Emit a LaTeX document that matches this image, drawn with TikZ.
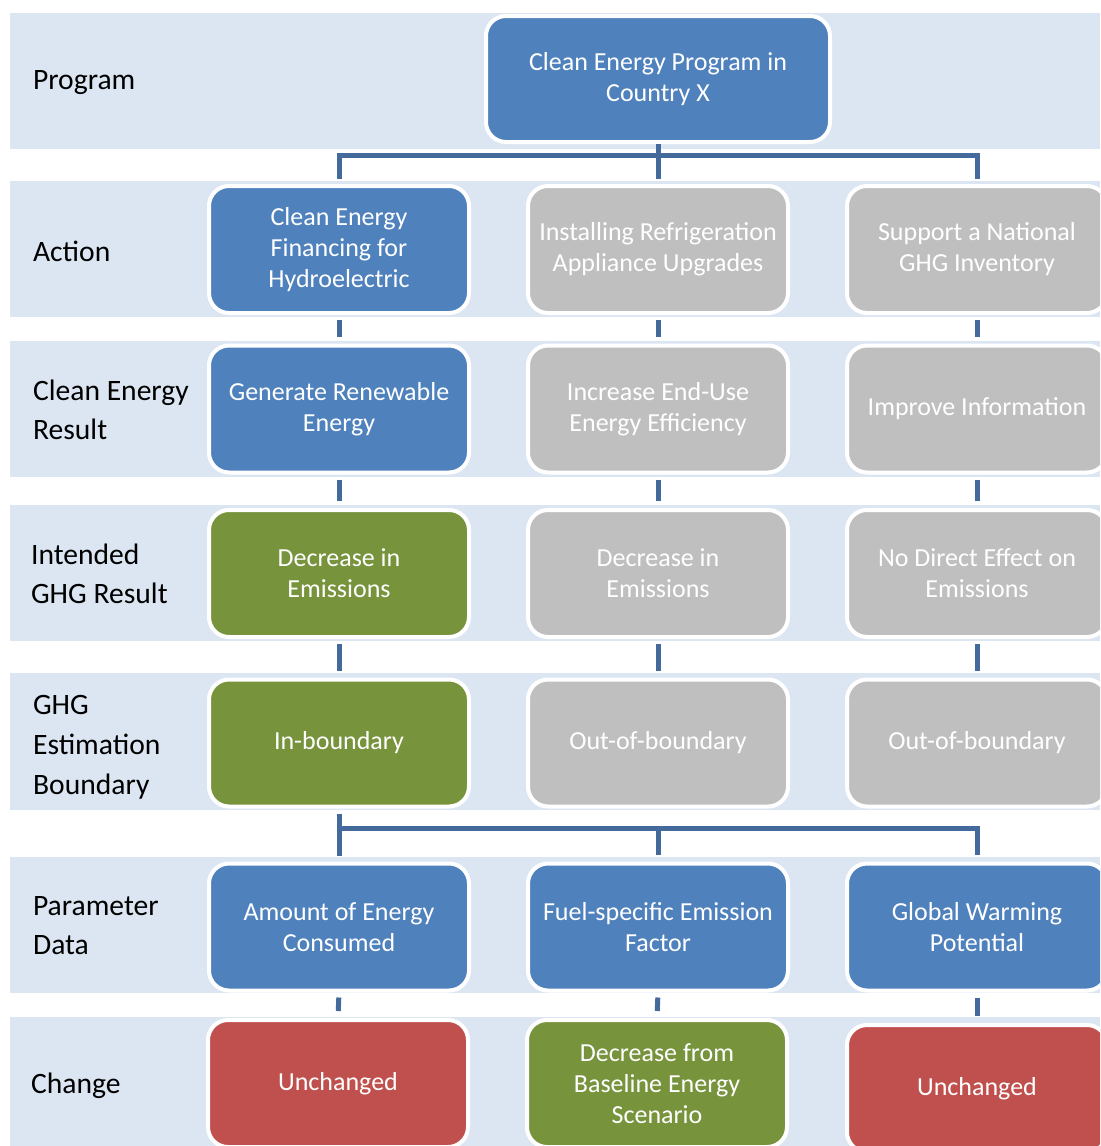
\documentclass[tikz,border=0pt]{standalone}
\usepackage{fontspec}
\setmainfont{Carlito}
\usetikzlibrary{calc}
\definecolor{bandc}{HTML}{DCE6F2}
\definecolor{bluec}{HTML}{4F81BD}
\definecolor{greyc}{HTML}{BFBFBF}
\definecolor{greenc}{HTML}{77933C}
\definecolor{redc}{HTML}{C0504D}
\definecolor{linec}{HTML}{44699B}
\tikzset{
  band/.style={fill=bandc},
  lbl/.style={anchor=west,align=left,font=\fontsize{14.8}{19.5}\selectfont},
  box/.style={draw=white,line width=2pt,rounded corners=10pt,minimum width=130pt,minimum height=63.5pt,align=center,text=white,font=\fontsize{13}{15.5}\selectfont,inner sep=2pt},
  bluebox/.style={box,fill=bluec},
  greybox/.style={box,fill=greyc},
  greenbox/.style={box,fill=greenc},
  redbox/.style={box,fill=redc},
  conn/.style={draw=linec,line width=2.5pt}
}
\begin{document}
\begin{tikzpicture}[x=0.5pt,y=-0.5pt]
\useasboundingbox (0,0) rectangle (1100,1146);
\clip (0,0) rectangle (1100,1146);
\fill[white] (0,0) rectangle (1100,1146);
% row bands
\foreach \t/\b in {13/149,181/317,341/477,505/641,673/810,857/993,1017/1146}
  \fill[band] (10,\t) rectangle (1100,\b);
% row labels
\node[lbl] (lprog) at (26,83) {Program};
\node[lbl] (lact) at (26,251) {Action};
\node[lbl] (lres) at (26,410) {Clean Energy\\Result};
\node[lbl] (lghg) at (24,574) {Intended\\GHG Result};
\node[lbl,font=\fontsize{14.8}{20}\selectfont] (lbnd) at (26,747) {GHG\\Estimation\\Boundary};
\node[lbl] (lpar) at (26,926) {Parameter\\Data};
\node[lbl] (lchg) at (24,1086) {Change};
% program
\node[bluebox,minimum width=172pt,minimum height=63pt] (prog) at (658,79) {Clean Energy Program in\\Country X};
% actions
\node[bluebox] (a1) at (339,249.5) {Clean Energy\\Financing for\\Hydroelectric};
\node[greybox] (a2) at (658,249.5) {Installing Refrigeration\\Appliance Upgrades};
\node[greybox] (a3) at (977,249.5) {Support a National\\GHG Inventory};
% clean energy results
\node[bluebox] (r1) at (339,409) {Generate Renewable\\Energy};
\node[greybox] (r2) at (658,409) {Increase End-Use\\Energy Efficiency};
\node[greybox] (r3) at (977,409) {Improve Information};
% intended ghg results
\node[greenbox] (g1) at (339,573.5) {Decrease in\\Emissions};
\node[greybox] (g2) at (658,573.5) {Decrease in\\Emissions};
\node[greybox] (g3) at (977,573.5) {No Direct Effect on\\Emissions};
% boundary
\node[greenbox] (b1) at (339,743) {In-boundary};
\node[greybox] (b2) at (658,743) {Out-of-boundary};
\node[greybox] (b3) at (977,743) {Out-of-boundary};
% parameter data
\node[bluebox] (p1) at (339,927) {Amount of Energy\\Consumed};
\node[bluebox] (p2) at (658,927) {Fuel-specific Emission\\Factor};
\node[bluebox] (p3) at (977,927) {Global Warming\\Potential};
% change
\node[redbox] (c1) at (338,1083.5) {Unchanged};
\node[greenbox] (c2) at (657,1083.5) {Decrease from\\Baseline Energy\\Scenario};
\node[redbox] (c3) at (977,1088.5) {Unchanged};
% connectors
\coordinate (tfork) at (658,155);
\draw[conn,shorten >=2.5pt] (prog.south) -- (a2.north);
\draw[conn,shorten >=2.5pt] (tfork) -| (a1.north);
\draw[conn,shorten >=2.5pt] (tfork) -| (a3.north);
\foreach \u/\v in {a1/r1,a2/r2,a3/r3,r1/g1,r2/g2,r3/g3,g1/b1,g2/b2,g3/b3,p1/c1,p2/c2,p3/c3}
  \draw[conn,shorten <=2.5pt,shorten >=3.5pt] (\u.south) -- (\v.north);
\coordinate (bfork) at (339,828);
\draw[conn,shorten <=2.5pt,shorten >=3pt] (b1.south) -- (p1.north);
\draw[conn,shorten >=3.5pt] (bfork) -| (p2.north);
\draw[conn,shorten >=3.5pt] (bfork) -| (p3.north);
\end{tikzpicture}
\end{document}
